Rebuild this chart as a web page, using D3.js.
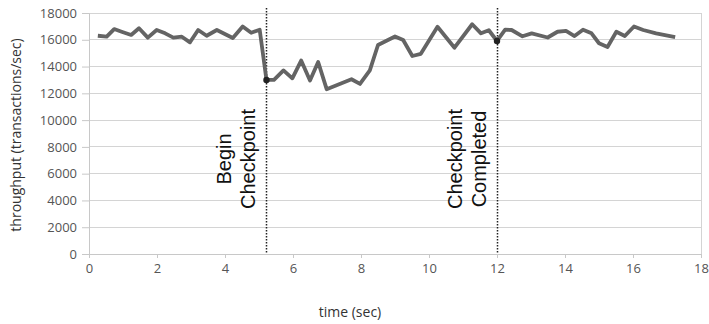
<!DOCTYPE html>
<html>
<head>
<meta charset="utf-8">
<script src="https://cdn.jsdelivr.net/npm/d3@7"></script>
<style>
  html, body { margin: 0; padding: 0; background: #fff; }
  svg { display: block; }
</style>
</head>
<body>
<svg id="chart" width="709" height="324"></svg>
<script>
// Throughput samples: time in seconds, transactions per second
const times = [0.26, 0.52, 0.74, 0.96, 1.24, 1.47, 1.73, 1.99, 2.24, 2.48, 2.73, 2.97, 3.21, 3.46, 3.76,
  4.23, 4.52, 4.77, 5.02, 5.22, 5.44, 5.72, 5.98, 6.24, 6.50, 6.74, 6.99, 7.72, 7.97, 8.26, 8.50,
  9.00, 9.24, 9.51, 9.76, 10.25, 10.75, 11.27, 11.53, 11.76, 12.00, 12.24, 12.43, 12.75, 13.02,
  13.49, 13.78, 14.03, 14.28, 14.53, 14.78, 15.00, 15.25, 15.51, 15.76, 16.03, 16.30, 16.68, 17.24];
const throughput = [16300, 16230, 16800, 16600, 16360, 16860, 16160, 16730, 16480, 16160, 16230, 15810, 16730, 16300, 16730,
  16130, 16990, 16520, 16750, 13000, 13000, 13710, 13120, 14450, 12960, 14340, 12310, 13050, 12700, 13710, 15610,
  16250, 15980, 14790, 14950, 16970, 15410, 17160, 16480, 16710, 15910, 16750, 16730, 16260, 16480,
  16170, 16600, 16660, 16280, 16750, 16480, 15740, 15460, 16600, 16280, 16990, 16730, 16480, 16190];

// Checkpoint events
const eventTimes = [5.22, 12.00];
const eventValues = [13000, 15910];
const eventLabels = [["Begin", "Checkpoint"], ["Checkpoint", "Completed"]];

// Axis ticks
const xTicks = [0, 2, 4, 6, 8, 10, 12, 14, 16, 18];
const yTicks = [0, 2000, 4000, 6000, 8000, 10000, 12000, 14000, 16000, 18000];

const svg = d3.select("#chart");
const x = d3.scaleLinear().domain([0, 18]).range([89, 701]);
const y = d3.scaleLinear().domain([0, 18000]).range([254, 13]);

// Horizontal gridlines
svg.append("g")
  .selectAll("line")
  .data(yTicks)
  .join("line")
  .attr("x1", x(0)).attr("x2", x(18))
  .attr("y1", d => y(d)).attr("y2", d => y(d))
  .attr("stroke", "#d4d4d4").attr("stroke-width", 1)
  .attr("shape-rendering", "crispEdges");

// Right border
svg.append("line")
  .attr("x1", x(18)).attr("x2", x(18))
  .attr("y1", y(18000)).attr("y2", y(0))
  .attr("stroke", "#d4d4d4").attr("shape-rendering", "crispEdges");

// Y axis
const yAxis = svg.append("g")
  .attr("transform", `translate(${x(0)},0)`)
  .call(d3.axisLeft(y).tickValues(yTicks).tickSize(7).tickPadding(5).tickFormat(d3.format("d")));
yAxis.select(".domain").attr("stroke", "#c8c8c8");
yAxis.selectAll(".tick line").attr("stroke", "#c8c8c8");
yAxis.selectAll("text")
  .attr("fill", "#555")
  .style("font-family", "'Open Sans', sans-serif")
  .style("font-size", "13px");

// X axis
const xAxis = svg.append("g")
  .attr("transform", `translate(0,${y(0)})`)
  .call(d3.axisBottom(x).tickValues(xTicks).tickSize(4).tickPadding(6).tickFormat(d3.format("d")));
xAxis.select(".domain").attr("stroke", "#c8c8c8");
xAxis.selectAll(".tick line").attr("stroke", "#c8c8c8");
xAxis.selectAll("text")
  .attr("fill", "#555")
  .style("font-family", "'Open Sans', sans-serif")
  .style("font-size", "13px");

// Axis titles
svg.append("text")
  .attr("x", 350).attr("y", 317)
  .attr("text-anchor", "middle")
  .attr("fill", "#333")
  .style("font-family", "'Open Sans', sans-serif")
  .style("font-size", "14px")
  .text("time (sec)");

svg.append("text")
  .attr("transform", "translate(21,135) rotate(-90)")
  .attr("text-anchor", "middle")
  .attr("fill", "#333")
  .style("font-family", "'Open Sans', sans-serif")
  .style("font-size", "14px")
  .text("throughput (transactions/sec)");

// Checkpoint markers (dotted verticals)
svg.append("g")
  .selectAll("line")
  .data(eventTimes)
  .join("line")
  .attr("x1", d => Math.round(x(d)) + 0.5).attr("x2", d => Math.round(x(d)) + 0.5)
  .attr("y1", 8).attr("y2", y(0))
  .attr("stroke", "#222").attr("stroke-width", 1.5)
  .attr("stroke-dasharray", "1.5,1.5");

// Throughput line
const pts = times.map((t, i) => [t, throughput[i]]);
svg.append("path")
  .datum(pts)
  .attr("fill", "none")
  .attr("stroke", "#646464")
  .attr("stroke-width", 3.8)
  .attr("stroke-linejoin", "round")
  .attr("d", d3.line().x(d => x(d[0])).y(d => y(d[1])));

// Event points
svg.append("g")
  .selectAll("circle")
  .data(eventTimes)
  .join("circle")
  .attr("cx", d => x(d))
  .attr("cy", (d, i) => y(eventValues[i]))
  .attr("r", 3.2)
  .attr("fill", "#222");

// Event labels, rotated
const labelG = svg.append("g")
  .selectAll("text")
  .data(eventTimes)
  .join("text")
  .attr("transform", d => `translate(${x(d) - 35},159) rotate(-90)`)
  .attr("text-anchor", "middle")
  .attr("fill", "#111")
  .style("font-family", "'Liberation Sans', Arial, sans-serif")
  .style("font-size", "20px");
labelG.each(function(d, i) {
  const t = d3.select(this);
  eventLabels[i].forEach((line, j) => {
    t.append("tspan")
      .attr("x", 0)
      .attr("y", j * 23.5)
      .text(line);
  });
});
</script>
</body>
</html>
